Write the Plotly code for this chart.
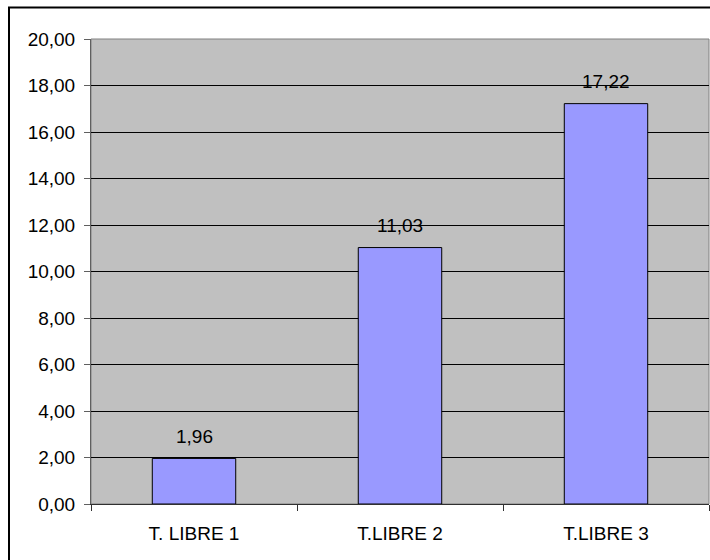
import plotly.graph_objects as go

categories = ["T. LIBRE 1", "T.LIBRE 2", "T.LIBRE 3"]
values = [1.96, 11.03, 17.22]
y_ticks = [0, 2, 4, 6, 8, 10, 12, 14, 16, 18, 20]

FONT = "Liberation Sans, Arial"

fig = go.Figure()
fig.add_trace(go.Bar(
    x=categories, y=values,
    marker=dict(color="#9999FF", line=dict(color="#000000", width=1)),
    width=0.405,
    hoverinfo="skip",
))

for c, v in zip(categories, values):
    fig.add_annotation(x=c, y=v, text=f"{v:.2f}".replace(".", ","),
                       showarrow=False, yshift=22, yanchor="middle",
                       font=dict(family=FONT, size=19, color="#000000"))

fig.update_layout(
    width=710, height=560,
    margin=dict(l=91, r=1, t=39, b=56),
    paper_bgcolor="#FFFFFF",
    plot_bgcolor="#C0C0C0",
    separators=", ",
    showlegend=False,
    font=dict(family=FONT, size=19, color="#000000"),
)
fig.update_yaxes(
    range=[0, 20], tickvals=y_ticks, tickformat=".2f",
    showgrid=True, gridcolor="#000000", gridwidth=1,
    showline=True, linecolor="#606060", linewidth=1,
    ticks="outside", ticklen=6, tickcolor="#606060",
    ticklabelstandoff=5, zeroline=False, mirror=False,
)
fig.update_xaxes(
    showline=True, linecolor="#303030", linewidth=1,
    ticks="outside", ticklen=6, tickcolor="#303030",
    tickson="boundaries", ticklabelstandoff=12,
    showgrid=False,
)
# plot area border
fig.add_shape(type="rect", xref="paper", yref="paper", x0=0, y0=0, x1=1, y1=1,
              line=dict(color="#808080", width=1), layer="below")
# outer chart border (plot width 618, height 465)
fig.add_shape(type="rect", xref="paper", yref="paper",
              x0=(9 - 91) / 618, y0=-0.2, x1=1.05, y1=1 + (39 - 7.5) / 465,
              line=dict(color="#000000", width=2))

fig.write_html("out.html",
               config={"displayModeBar": False, "staticPlot": True},
               post_script="document.body.style.margin='0';document.body.style.overflow='hidden';")
